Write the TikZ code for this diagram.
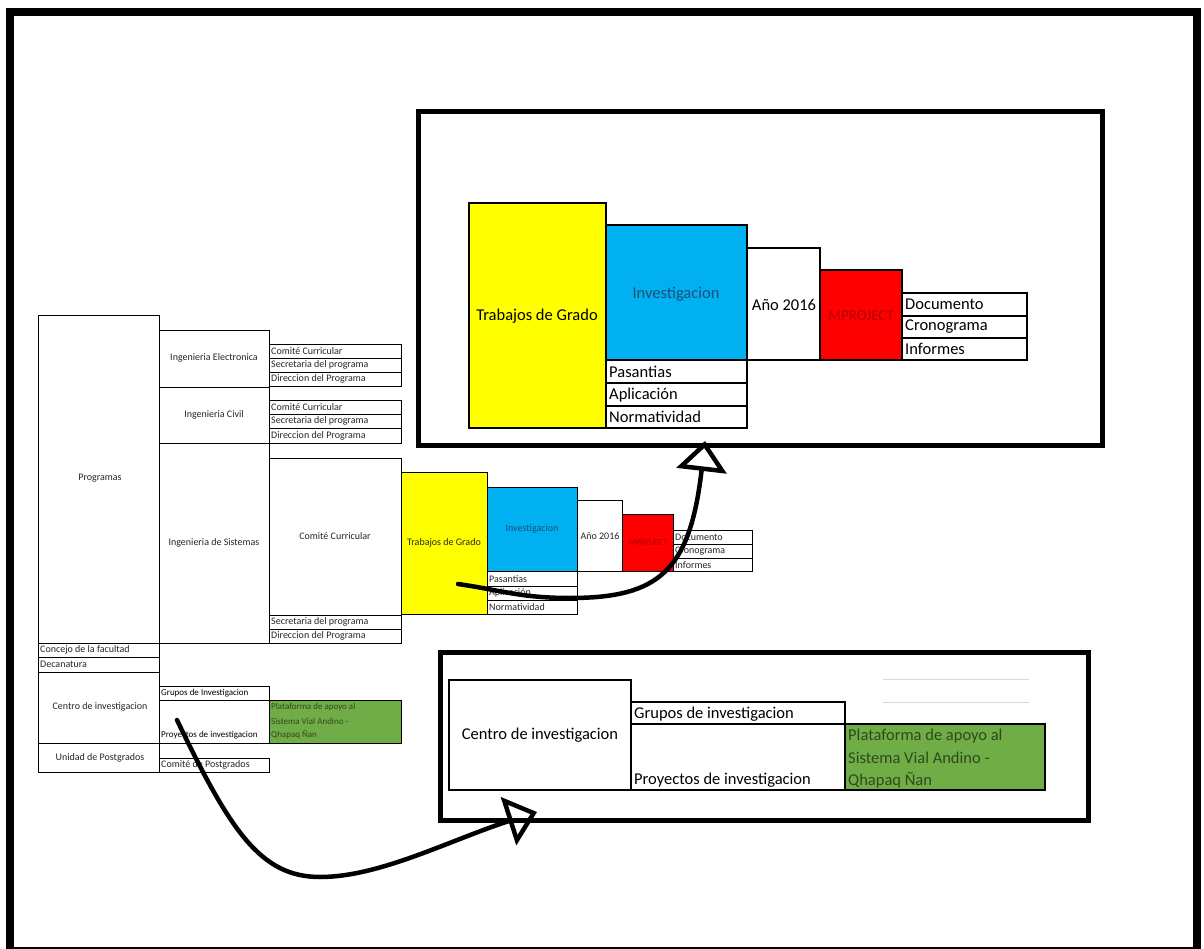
\documentclass[tikz,border=0pt]{standalone}
\usepackage{fontspec}
\setmainfont{Carlito}
\usepackage{tikz}
\usetikzlibrary{arrows.meta}
\definecolor{amarillo}{HTML}{FFFF00}
\definecolor{celeste}{HTML}{00B0F0}
\definecolor{rojo}{HTML}{FF0000}
\definecolor{verde}{HTML}{70AD47}
\definecolor{azultxt}{HTML}{1F4E79}
\definecolor{rojotxt}{HTML}{B00000}
\definecolor{verdetxt}{HTML}{2E4A1C}

\begin{document}
\begin{tikzpicture}[x=1pt,y=-1pt,
  cell/.style={draw=black,line width=1.2pt},
  celda/.style={draw=black,line width=0.9pt},
  frame/.style={draw=black,line width=5pt},
  big/.style={font=\fontsize{16.5}{19}\selectfont,inner sep=0pt},
  small/.style={font=\fontsize{10}{12}\selectfont,inner sep=0pt,text=black!85},
  tiny/.style={font=\fontsize{9}{11}\selectfont,inner sep=0pt},
  hand/.style={line width=4.5pt,line cap=round,-{Triangle[open,length=30pt,width=50pt,line width=4.5pt]}}]
\useasboundingbox (0,0) rectangle (1204,949);
\fill[white] (0,0) rectangle (1204,949);
\draw[line width=8pt] (10,12) rectangle (1197,951);

% organigrama
\draw[celda] (38,315) rectangle (159,643);
\draw[celda] (159,330) rectangle (269,387);
\draw[celda] (159,387) rectangle (269,443);
\draw[celda] (159,443) rectangle (269,643);
\draw[celda] (269,344) rectangle (401,358);
\draw[celda] (269,358) rectangle (401,372);
\draw[celda] (269,372) rectangle (401,386);
\draw[celda] (269,400) rectangle (401,414);
\draw[celda] (269,414) rectangle (401,428);
\draw[celda] (269,428) rectangle (401,443);
\draw[celda] (269,458) rectangle (401,615);
\draw[celda] (269,615) rectangle (401,629);
\draw[celda] (269,629) rectangle (401,643);
\draw[celda] (38,643) rectangle (159,657);
\draw[celda] (38,657) rectangle (159,672);
\draw[celda] (38,672) rectangle (159,743);
\draw[celda] (38,743) rectangle (159,772);
\draw[celda] (159,686) rectangle (269,700);
\draw[celda] (159,700) rectangle (269,743);
\draw[celda,fill=verde] (269,700) rectangle (401,743);
\draw[celda] (159,758) rectangle (269,772);
\node[small] (prog) at (100,478) {Programas};
\node[small] (ielec) at (214,358) {Ingenieria Electronica};
\node[small] (icivil) at (214,415) {Ingenieria Civil};
\node[small] (isis) at (214,543) {Ingenieria de Sistemas};
\node[small,anchor=west] (cc1) at (271,351) {Comité Curricular};
\node[small,anchor=west] (sp1) at (271,365) {Secretaria del programa};
\node[small,anchor=west] (dp1) at (271,379) {Direccion del Programa};
\node[small,anchor=west] (cc2) at (271,407) {Comité Curricular};
\node[small,anchor=west] (sp2) at (271,421) {Secretaria del programa};
\node[small,anchor=west] (dp2) at (271,436) {Direccion del Programa};
\node[small] (cc3) at (335,536) {Comité Curricular};
\node[small,anchor=west] (sp3) at (271,622) {Secretaria del programa};
\node[small,anchor=west] (dp3) at (271,636) {Direccion del Programa};
\node[small,anchor=west] (conc) at (40,650) {Concejo de la facultad};
\node[small,anchor=west] (dec) at (40,664) {Decanatura};
\node[small] (cinv) at (100,707) {Centro de investigacion};
\node[tiny,anchor=west] (ginv) at (161,693) {Grupos de Investigacion};
\node[tiny,anchor=west] (pinv) at (161,735) {Proyectos de investigacion};
\node[tiny,anchor=west,text=verdetxt] (plat1) at (271,707) {Plataforma de apoyo al};
\node[tiny,anchor=west,text=verdetxt] (plat2) at (271,721) {Sistema Vial Andino -};
\node[tiny,anchor=west,text=verdetxt] (plat3) at (271,735) {Qhapaq Ñan};
\node[small] (upos) at (100,758) {Unidad de Postgrados};
\node[small,anchor=west] (cpos) at (161,765) {Comité de Postgrados};

% trabajos de grado (pequeno)
\draw[celda,fill=amarillo] (401,472) rectangle (487,614);
\draw[celda,fill=celeste] (487,487) rectangle (577,571);
\draw[celda] (487,571) rectangle (577,586);
\draw[celda] (487,586) rectangle (577,600);
\draw[celda] (487,600) rectangle (577,614);
\draw[celda] (577,500) rectangle (622,571);
\draw[celda,fill=rojo] (622,514) rectangle (673,571);
\draw[celda] (673,530) rectangle (752,544);
\draw[celda] (673,544) rectangle (752,558);
\draw[celda] (673,558) rectangle (752,571);
\node[small] (tg) at (444,543) {Trabajos de Grado};
\node[small,text=azultxt] (inv) at (532,529) {Investigacion};
\node[small,anchor=west] (pas) at (489,579) {Pasantias};
\node[small,anchor=west] (apl) at (489,593) {Aplicación};
\node[small,anchor=west] (nor) at (489,607) {Normatividad};
\node[small] (anio) at (600,536) {Año 2016};
\node[small,text=rojotxt,font=\fontsize{9}{11}\selectfont] (mp) at (648,543) {MPROJECT};
\node[small,anchor=west] (doc) at (675,537) {Documento};
\node[small,anchor=west] (cro) at (675,551) {Cronograma};
\node[small,anchor=west] (inf) at (675,565) {Informes};

% trabajos de grado (grande)
\draw[frame] (418,112) rectangle (1102,445);
\draw[cell,fill=amarillo] (469,203) rectangle (606,428);
\draw[cell,fill=celeste] (606,225) rectangle (747,360);
\draw[cell] (606,360) rectangle (747,383);
\draw[cell] (606,383) rectangle (747,406);
\draw[cell] (606,406) rectangle (747,428);
\draw[cell] (747,248) rectangle (820,360);
\draw[cell,fill=rojo] (820,270) rectangle (902,360);
\draw[cell] (902,293) rectangle (1027,316);
\draw[cell] (902,316) rectangle (1027,338);
\draw[cell] (902,338) rectangle (1027,360);
\node[big] (TG) at (537,316) {Trabajos de Grado};
\node[big,text=azultxt] (INV) at (676,294) {Investigacion};
\node[big,anchor=west] (PAS) at (609,372) {Pasantias};
\node[big,anchor=west] (APL) at (609,395) {Aplicación};
\node[big,anchor=west] (NOR) at (609,417) {Normatividad};
\node[big] (ANIO) at (784,305) {Año 2016};
\node[big,text=rojotxt,font=\fontsize{15}{18}\selectfont] (MP) at (861,316) {MPROJECT};
\node[big,anchor=west] (DOC) at (905,304) {Documento};
\node[big,anchor=west] (CRO) at (905,327) {Cronograma};
\node[big,anchor=west] (INF) at (905,349) {Informes};

% centro de investigacion (grande)
\draw[frame] (440,652) rectangle (1088,820);
\draw[cell] (449,680) rectangle (631,790);
\draw[cell] (631,702) rectangle (845,724);
\draw[cell] (631,724) rectangle (845,790);
\draw[cell,fill=verde] (845,724) rectangle (1045,790);
\draw[gray!30,line width=0.8pt] (883,679) -- (1029,679) (883,702) -- (1029,702);
\node[big] (CINV) at (540,735) {Centro de investigacion};
\node[big,anchor=west] (GINV) at (634,714) {Grupos de investigacion};
\node[big,anchor=west] (PINV) at (634,780) {Proyectos de investigacion};
\node[big,anchor=west,text=verdetxt] (PLAT1) at (848,736) {Plataforma de apoyo al};
\node[big,anchor=west,text=verdetxt] (PLAT2) at (848,758) {Sistema Vial Andino -};
\node[big,anchor=west,text=verdetxt] (PLAT3) at (848,780) {Qhapaq Ñan};

% flechas
\coordinate (src1) at (458,584);
\coordinate (dst1) at (705,441);
\coordinate (src2) at (177,720);
\coordinate (dst2) at (537,812);
\draw[hand] (src1) .. controls (500,590) and (520,598) .. (570,598)
  .. controls (660,598) and (690,570) .. (dst1);
\draw[hand] (src2) .. controls (230,830) and (260,877) .. (320,877)
  .. controls (380,877) and (450,840) .. (dst2);
\end{tikzpicture}
\end{document}
